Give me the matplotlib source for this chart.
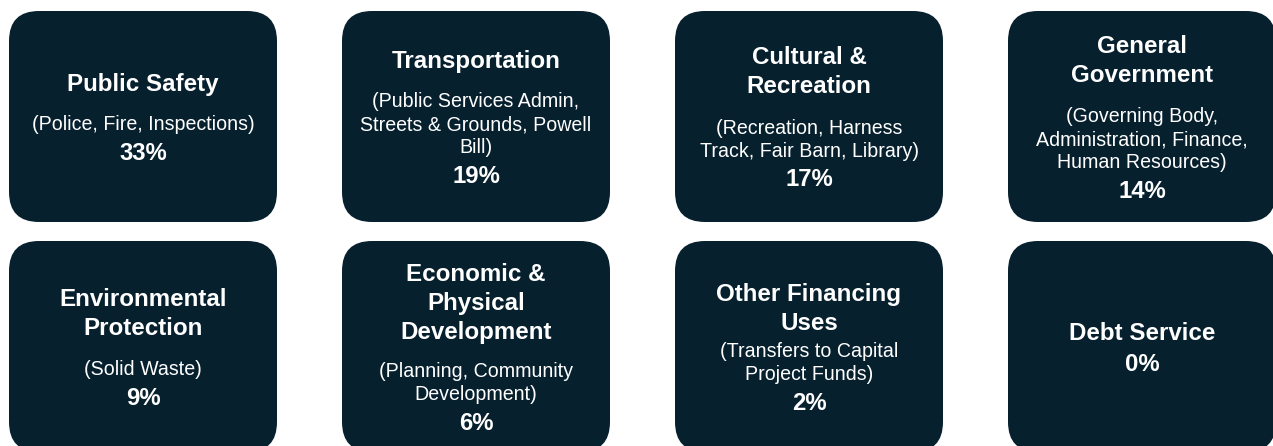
import matplotlib
matplotlib.use("Agg")
import matplotlib.pyplot as plt
from matplotlib.patches import FancyBboxPatch

# ---- data ----
titles = ["Public Safety", "Transportation", "Cultural &\nRecreation", "General\nGovernment",
          "Environmental\nProtection", "Economic &\nPhysical\nDevelopment", "Other Financing\nUses",
          "Debt Service"]
descriptions = ["(Police, Fire, Inspections)",
                "(Public Services Admin,\nStreets & Grounds, Powell\nBill)",
                "(Recreation, Harness\nTrack, Fair Barn, Library)",
                "(Governing Body,\nAdministration, Finance,\nHuman Resources)",
                "(Solid Waste)",
                "(Planning, Community\nDevelopment)",
                "(Transfers to Capital\nProject Funds)",
                ""]
shares = [33, 19, 17, 14, 9, 6, 2, 0]

# ---- layout / style ----
W, H = 1273, 446
BOX_COLOR = "#07202e"
box_w, box_h = 268, 211
x_start, y_start = 9, 11
col_step, row_step = 333, 230
radius = 30
ncols = 4
title_gap = [41, 41, 42, 42, 42, 40, 29, 31]  # center distance from last title line to next block
title_line, desc_line, pct_gap = 29, 23, 28
title_fs, desc_fs, pct_fs = 17.4, 14.1, 17.2
FONT = ["Liberation Sans", "Arial", "DejaVu Sans"]

fig = plt.figure(figsize=(W / 100, H / 100), dpi=100)
ax = fig.add_axes([0, 0, 1, 1])
ax.set_xlim(0, W)
ax.set_ylim(H, 0)
ax.axis("off")


def cap_half(fs):
    return 0.716 * fs * 100 / 72 / 2


for i, (title, desc, share) in enumerate(zip(titles, descriptions, shares)):
    r, c = divmod(i, ncols)
    x0 = x_start + c * col_step
    y0 = y_start + r * row_step
    ax.add_patch(FancyBboxPatch((x0, y0), box_w, box_h,
                                boxstyle=f"round,pad=0,rounding_size={radius}",
                                facecolor=BOX_COLOR, edgecolor="none"))
    # build line list: (text, weight, size, offset)
    lines = []
    y = 0.0
    for k, t in enumerate(title.split("\n")):
        if k > 0:
            y += title_line
        lines.append((t, "bold", title_fs, y))
    if desc:
        y += title_gap[i]
        for k, t in enumerate(desc.split("\n")):
            if k > 0:
                y += desc_line
            lines.append((t, "normal", desc_fs, y))
        y += pct_gap
    else:
        y += title_gap[i]
    lines.append((f"{share}%", "bold", pct_fs, y))
    total = y
    cx = x0 + box_w / 2
    cy = y0 + box_h / 2
    top = cy - total / 2
    for t, wt, fs, off in lines:
        ax.text(cx, top + off + cap_half(fs), t, ha="center", va="baseline",
                color="white", fontsize=fs, fontweight=wt, family=FONT)

fig.savefig("out.png", dpi=100, facecolor="white")
